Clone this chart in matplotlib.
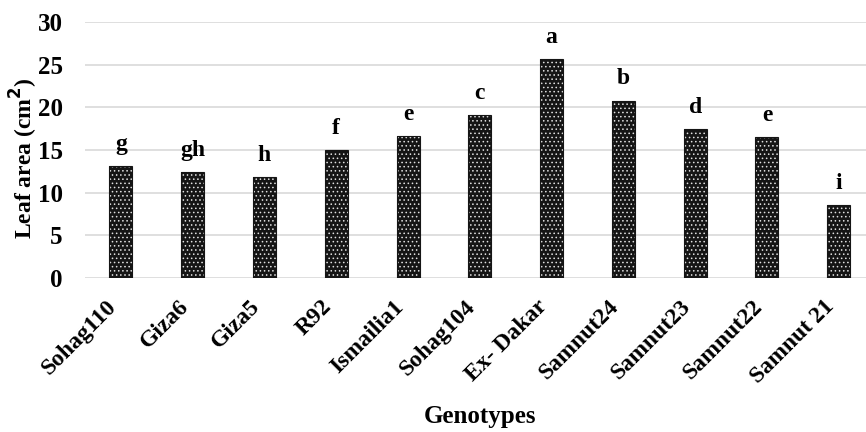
import matplotlib
matplotlib.use("Agg")
import matplotlib.pyplot as plt

genotypes = ["Sohag110", "Giza6", "Giza5", "R92", "Ismailia1", "Sohag104",
             "Ex- Dakar", "Samnut24", "Samnut23", "Samnut22", "Samnut 21"]
leaf_area = [13.1, 12.4, 11.8, 15.0, 16.6, 19.05, 25.7, 20.8, 17.5, 16.5, 8.6]
groups = ["g", "gh", "h", "f", "e", "c", "a", "b", "d", "e", "i"]
yticks = [0, 5, 10, 15, 20, 25, 30]

plt.rcParams["font.family"] = ["Liberation Serif", "DejaVu Serif"]
plt.rcParams["font.weight"] = "bold"
plt.rcParams["hatch.linewidth"] = 0.6

fig = plt.figure(figsize=(8.66, 4.32), dpi=100)
ax = fig.add_axes([85 / 866, 1 - 278 / 432, 1 - 85 / 866, (278 - 22) / 432])

x = list(range(len(genotypes)))
# dark dotted fill: black face with a white dot hatch, then a black outline
ax.bar(x, leaf_area, width=0.32, color="#151515", edgecolor="#e0e0e0",
       hatch="....", linewidth=0, zorder=3)
ax.bar(x, leaf_area, width=0.32, fill=False, edgecolor="#151515",
       linewidth=0.8, zorder=4)

for xi, v, g in zip(x, leaf_area, groups):
    ax.annotate(g, (xi, v), xytext=(0, 8), textcoords="offset points",
                ha="center", va="bottom", fontsize=17, fontweight="bold")

ax.set_xlim(-0.5, 10.38)
ax.set_ylim(0, 30)
ax.set_yticks(yticks)
ax.set_yticklabels([str(t) for t in yticks], fontsize=18, fontweight="bold")
ax.tick_params(axis="y", length=0, pad=16)
ax.tick_params(axis="x", length=0, pad=13)
ax.set_xticks(x)
ax.set_xticklabels(genotypes, rotation=45, ha="right", fontsize=17,
                   fontweight="bold")
ax.yaxis.grid(True, color="#d9d9d9", linewidth=1.2, zorder=0)
ax.set_axisbelow(True)
for s in ax.spines.values():
    s.set_visible(False)

fig.text(24 / 866, 1 - 158 / 432, "Leaf area (cm$^{\\mathbf{2}}$)", rotation=90,
         ha="center", va="center", fontsize=17, fontweight="bold")
fig.text(480 / 866, 1 - 417 / 432, "Genotypes", ha="center", va="center",
         fontsize=18, fontweight="bold")

fig.savefig("out.png", dpi=100)
